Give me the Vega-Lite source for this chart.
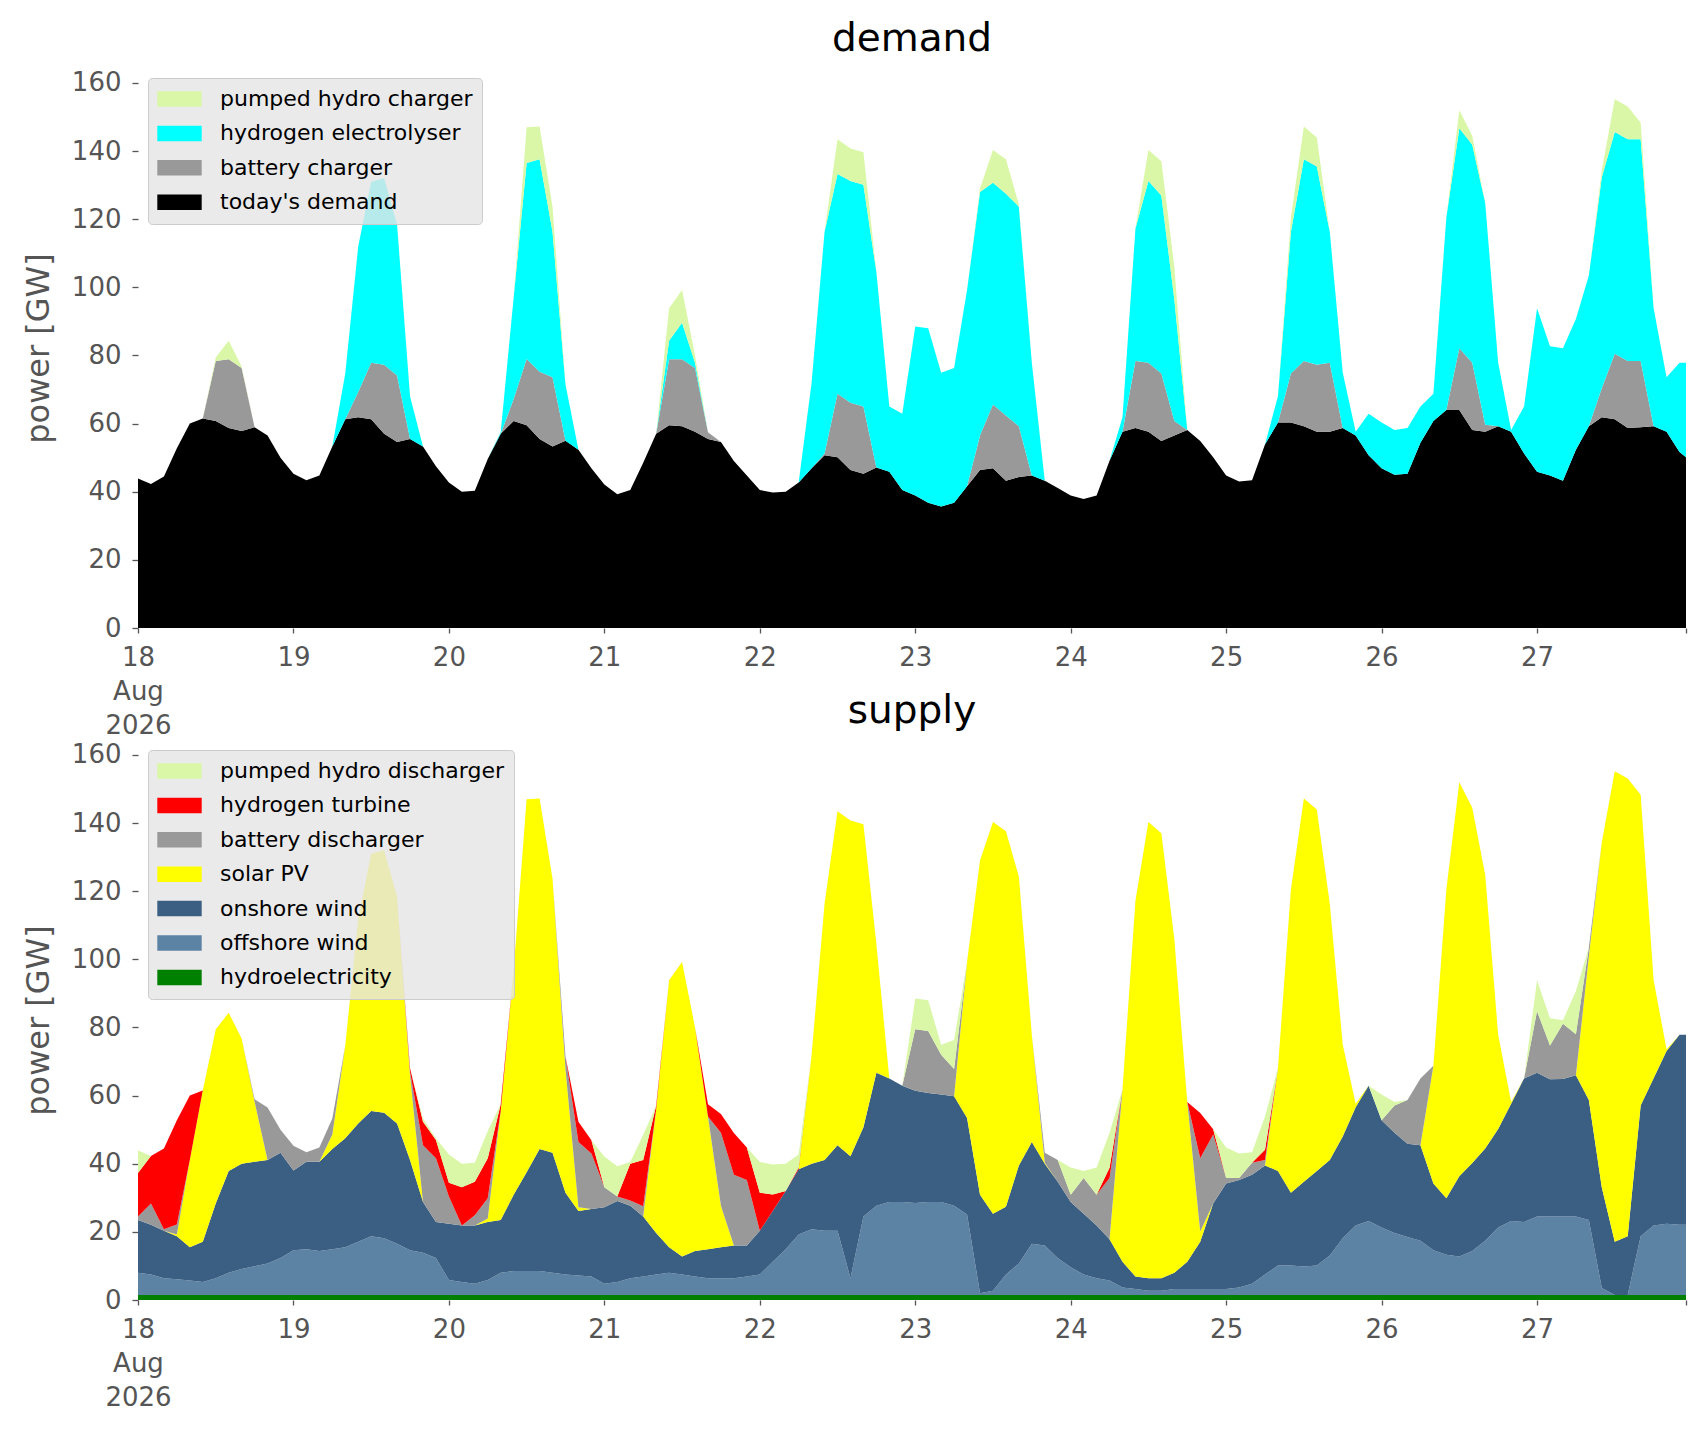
{
  "$schema": "https://vega.github.io/schema/vega-lite/v6.json",
  "background": "white",
  "padding": {"left": 22, "top": 19, "right": 5, "bottom": 5},
  "bounds": "flush",
  "spacing": 112,
  "resolve": {"scale": {"color": "independent"}, "legend": {"color": "independent"}},
  "config": {
    "font": "DejaVu Sans",
    "view": {"stroke": null},
    "axis": {
      "labelFont": "DejaVu Sans", "labelFontSize": 26, "labelColor": "#555555",
      "tickColor": "#555555", "tickWidth": 1.3, "domain": false, "grid": false,
      "titleFont": "DejaVu Sans", "titleFontSize": 32, "titleColor": "#555555", "titleFontWeight": "normal"
    },
    "legend": {
      "orient": "top-left", "offset": 10, "padding": 9,
      "fillColor": "rgba(229,229,229,0.8)", "strokeColor": "#cccccc", "strokeWidth": 1, "cornerRadius": 4,
      "labelFont": "DejaVu Sans", "labelFontSize": 22, "labelColor": "black", "labelLimit": 500,
      "symbolType": "M-1,-0.35L1,-0.35L1,0.35L-1,0.35Z", "symbolSize": 1971,
      "symbolStrokeWidth": 0, "symbolOpacity": 1, "clipHeight": 24, "rowPadding": 10.4, "labelOffset": 18
    },
    "title": {"font": "DejaVu Sans", "fontSize": 39, "fontWeight": "normal", "color": "black", "anchor": "middle", "offset": 9.5, "baseline": "alphabetic"}
  },
  "data": {"values": [
    {"t":"2026-08-18T00:00","d1":43.9,"d2":0,"d3":0,"d4":0,"s1":1.5,"s2":6.5,"s3":15.5,"s4":0,"s5":1,"s6":12.8,"s7":6.6},
    {"t":"2026-08-18T02:00","d1":42.3,"d2":0,"d3":0,"d4":0,"s1":1.5,"s2":6,"s3":14.6,"s4":0,"s5":6.2,"s6":14,"s7":0},
    {"t":"2026-08-18T04:00","d1":44.5,"d2":0,"d3":0,"d4":0,"s1":1.5,"s2":4.9,"s3":13.9,"s4":0,"s5":0.5,"s6":23.7,"s7":0},
    {"t":"2026-08-18T06:00","d1":52.8,"d2":0,"d3":0,"d4":0,"s1":1.5,"s2":4.6,"s3":12.6,"s4":0.5,"s5":3,"s6":30.6,"s7":0},
    {"t":"2026-08-18T08:00","d1":60,"d2":0,"d3":0,"d4":0,"s1":1.5,"s2":4.2,"s3":9.8,"s4":25.6,"s5":0,"s6":18.9,"s7":0},
    {"t":"2026-08-18T10:00","d1":61.5,"d2":0,"d3":0,"d4":0,"s1":1.5,"s2":3.8,"s3":11.8,"s4":44.4,"s5":0,"s6":0,"s7":0},
    {"t":"2026-08-18T12:00","d1":60.8,"d2":17.6,"d3":0,"d4":1,"s1":1.5,"s2":4.9,"s3":21.9,"s4":51.1,"s5":0,"s6":0,"s7":0},
    {"t":"2026-08-18T14:00","d1":58.7,"d2":20.2,"d3":0,"d4":5.4,"s1":1.5,"s2":6.5,"s3":29.9,"s4":46.4,"s5":0,"s6":0,"s7":0},
    {"t":"2026-08-18T16:00","d1":57.8,"d2":18.5,"d3":0,"d4":0.5,"s1":1.5,"s2":7.6,"s3":30.9,"s4":36.8,"s5":0,"s6":0,"s7":0},
    {"t":"2026-08-18T18:00","d1":58.9,"d2":0,"d3":0,"d4":0,"s1":1.5,"s2":8.4,"s3":30.7,"s4":17.6,"s5":0.7,"s6":0,"s7":0},
    {"t":"2026-08-18T20:00","d1":56.5,"d2":0,"d3":0,"d4":0,"s1":1.5,"s2":9.2,"s3":30.4,"s4":0,"s5":15.4,"s6":0,"s7":0},
    {"t":"2026-08-18T22:00","d1":50,"d2":0,"d3":0,"d4":0,"s1":1.5,"s2":10.8,"s3":30.9,"s4":0,"s5":6.8,"s6":0,"s7":0},
    {"t":"2026-08-19T00:00","d1":45.3,"d2":0,"d3":0,"d4":0,"s1":1.5,"s2":13.1,"s3":23.4,"s4":0,"s5":7.3,"s6":0,"s7":0},
    {"t":"2026-08-19T02:00","d1":43.4,"d2":0,"d3":0,"d4":0,"s1":1.5,"s2":13.4,"s3":25.7,"s4":0,"s5":2.8,"s6":0,"s7":0},
    {"t":"2026-08-19T04:00","d1":44.8,"d2":0,"d3":0,"d4":0,"s1":1.5,"s2":12.9,"s3":26.2,"s4":0,"s5":4.2,"s6":0,"s7":0},
    {"t":"2026-08-19T06:00","d1":53.3,"d2":0,"d3":0,"d4":0,"s1":1.5,"s2":13.4,"s3":29.4,"s4":4.3,"s5":4.7,"s6":0,"s7":0},
    {"t":"2026-08-19T08:00","d1":61.3,"d2":0,"d3":13.4,"d4":0,"s1":1.5,"s2":14,"s3":32,"s4":27.2,"s5":0,"s6":0,"s7":0},
    {"t":"2026-08-19T10:00","d1":61.9,"d2":7.4,"d3":42.7,"d4":0,"s1":1.5,"s2":15.6,"s3":34.7,"s4":60.2,"s5":0,"s6":0,"s7":0},
    {"t":"2026-08-19T12:00","d1":61.3,"d2":16.6,"d3":53.1,"d4":0,"s1":1.5,"s2":17.2,"s3":36.8,"s4":75.5,"s5":0,"s6":0,"s7":0},
    {"t":"2026-08-19T14:00","d1":57,"d2":20.3,"d3":54.7,"d4":0,"s1":1.5,"s2":16.6,"s3":36.9,"s4":77,"s5":0,"s6":0,"s7":0},
    {"t":"2026-08-19T16:00","d1":54.6,"d2":19.5,"d3":44.3,"d4":0,"s1":1.5,"s2":15,"s3":35.3,"s4":66.6,"s5":0,"s6":0,"s7":0},
    {"t":"2026-08-19T18:00","d1":55.5,"d2":0,"d3":12.5,"d4":0,"s1":1.5,"s2":13.1,"s3":26.5,"s4":24.9,"s5":1,"s6":1,"s7":0},
    {"t":"2026-08-19T20:00","d1":53.3,"d2":0,"d3":0,"d4":0,"s1":1.5,"s2":12.4,"s3":14.9,"s4":0,"s5":16.6,"s6":6.9,"s7":1},
    {"t":"2026-08-19T22:00","d1":47.5,"d2":0,"d3":0,"d4":0,"s1":1.5,"s2":10.8,"s3":10.6,"s4":0,"s5":18.7,"s6":5.4,"s7":0.5},
    {"t":"2026-08-20T00:00","d1":42.7,"d2":0,"d3":0,"d4":0,"s1":1.5,"s2":4.4,"s3":16.5,"s4":0,"s5":8,"s6":4,"s7":8.3},
    {"t":"2026-08-20T02:00","d1":40,"d2":0,"d3":0,"d4":0,"s1":1.5,"s2":3.8,"s3":16.6,"s4":0,"s5":0,"s6":11.2,"s7":6.9},
    {"t":"2026-08-20T04:00","d1":40.3,"d2":0,"d3":0,"d4":0,"s1":1.5,"s2":3.3,"s3":17.1,"s4":0,"s5":3,"s6":9.8,"s7":5.6},
    {"t":"2026-08-20T06:00","d1":49.6,"d2":0,"d3":0,"d4":0,"s1":1.5,"s2":4.4,"s3":17,"s4":1,"s5":6,"s6":11.7,"s7":8},
    {"t":"2026-08-20T08:00","d1":57,"d2":0,"d3":0.5,"d4":0,"s1":1.5,"s2":6.5,"s3":15.5,"s4":32,"s5":0,"s6":2,"s7":0},
    {"t":"2026-08-20T10:00","d1":60.8,"d2":6.4,"d3":29.8,"d4":0,"s1":1.5,"s2":7,"s3":22.4,"s4":66.1,"s5":0,"s6":0,"s7":0},
    {"t":"2026-08-20T12:00","d1":59.5,"d2":19.5,"d3":57.5,"d4":10.5,"s1":1.5,"s2":7,"s3":29,"s4":109.5,"s5":0,"s6":0,"s7":0},
    {"t":"2026-08-20T14:00","d1":55.5,"d2":19.7,"d3":62.4,"d4":9.6,"s1":1.5,"s2":7,"s3":35.8,"s4":102.9,"s5":0,"s6":0,"s7":0},
    {"t":"2026-08-20T16:00","d1":53.3,"d2":20.3,"d3":42.7,"d4":7.4,"s1":1.5,"s2":6.5,"s3":35.2,"s4":80.5,"s5":0,"s6":0,"s7":0},
    {"t":"2026-08-20T18:00","d1":55,"d2":0,"d3":16.5,"d4":0,"s1":1.5,"s2":6,"s3":24,"s4":36.3,"s5":3.7,"s6":0,"s7":0},
    {"t":"2026-08-20T20:00","d1":52.3,"d2":0,"d3":0,"d4":0,"s1":1.5,"s2":5.7,"s3":18.9,"s4":1.1,"s5":19.2,"s6":5.9,"s7":0},
    {"t":"2026-08-20T22:00","d1":46.9,"d2":0,"d3":0,"d4":0,"s1":1.5,"s2":5.4,"s3":19.8,"s4":0,"s5":16.3,"s6":3.9,"s7":0},
    {"t":"2026-08-21T00:00","d1":42.1,"d2":0,"d3":0,"d4":0,"s1":1.5,"s2":3.3,"s3":22.4,"s4":0,"s5":5.9,"s6":0,"s7":9},
    {"t":"2026-08-21T02:00","d1":39.3,"d2":0,"d3":0,"d4":0,"s1":1.5,"s2":3.8,"s3":23.8,"s4":0,"s5":1.3,"s6":0,"s7":8.9},
    {"t":"2026-08-21T04:00","d1":40.5,"d2":0,"d3":0,"d4":0,"s1":1.5,"s2":4.9,"s3":21.3,"s4":0,"s5":1.5,"s6":10.8,"s7":0.5},
    {"t":"2026-08-21T06:00","d1":48.5,"d2":0,"d3":0,"d4":0,"s1":1.5,"s2":5.4,"s3":17.6,"s4":0,"s5":3,"s6":13.6,"s7":7.4},
    {"t":"2026-08-21T08:00","d1":57,"d2":0,"d3":0,"d4":0,"s1":1.5,"s2":6,"s3":12.2,"s4":36.3,"s5":0,"s6":1,"s7":0},
    {"t":"2026-08-21T10:00","d1":59.5,"d2":19.4,"d3":5.4,"d4":9.6,"s1":1.5,"s2":6.5,"s3":7.5,"s4":78.4,"s5":0,"s6":0,"s7":0},
    {"t":"2026-08-21T12:00","d1":59.2,"d2":19.7,"d3":10.7,"d4":9.6,"s1":1.5,"s2":6,"s3":5.3,"s4":86.4,"s5":0,"s6":0,"s7":0},
    {"t":"2026-08-21T14:00","d1":57.6,"d2":18.7,"d3":1.6,"d4":2.1,"s1":1.5,"s2":5.4,"s3":7.5,"s4":65.6,"s5":0,"s6":0,"s7":0},
    {"t":"2026-08-21T16:00","d1":55.5,"d2":2,"d3":0,"d4":0,"s1":1.5,"s2":4.9,"s3":8.5,"s4":39,"s5":0,"s6":3.6,"s7":0},
    {"t":"2026-08-21T18:00","d1":54.6,"d2":0,"d3":0,"d4":0,"s1":1.5,"s2":4.9,"s3":9.1,"s4":12.2,"s5":21.4,"s6":5.5,"s7":0},
    {"t":"2026-08-21T20:00","d1":49,"d2":0,"d3":0,"d4":0,"s1":1.5,"s2":4.9,"s3":9.6,"s4":0,"s5":20.8,"s6":12.2,"s7":0},
    {"t":"2026-08-21T22:00","d1":44.8,"d2":0,"d3":0,"d4":0,"s1":1.5,"s2":5.4,"s3":9.1,"s4":0,"s5":19.2,"s6":9.6,"s7":0},
    {"t":"2026-08-22T00:00","d1":40.5,"d2":0,"d3":0,"d4":0,"s1":1.5,"s2":6,"s3":12.8,"s4":0,"s5":0,"s6":11.2,"s7":9},
    {"t":"2026-08-22T02:00","d1":39.8,"d2":0,"d3":0,"d4":0,"s1":1.5,"s2":9.7,"s3":14.9,"s4":0,"s5":0,"s6":4.9,"s7":8.8},
    {"t":"2026-08-22T04:00","d1":40,"d2":0,"d3":0,"d4":0,"s1":1.5,"s2":13.4,"s3":17.1,"s4":0,"s5":0,"s6":0,"s7":8},
    {"t":"2026-08-22T06:00","d1":42.7,"d2":0,"d3":0,"d4":0,"s1":1.5,"s2":17.7,"s3":19.2,"s4":0,"s5":0,"s6":0.5,"s7":3.8},
    {"t":"2026-08-22T08:00","d1":46.9,"d2":0,"d3":25.1,"d4":0,"s1":1.5,"s2":19.3,"s3":19.2,"s4":32,"s5":0,"s6":0,"s7":0},
    {"t":"2026-08-22T10:00","d1":50.7,"d2":0.5,"d3":65.1,"d4":0,"s1":1.5,"s2":18.8,"s3":20.8,"s4":75.2,"s5":0,"s6":0,"s7":0},
    {"t":"2026-08-22T12:00","d1":50.1,"d2":18.7,"d3":64.5,"d4":10.2,"s1":1.5,"s2":18.8,"s3":25.1,"s4":98.1,"s5":0,"s6":0,"s7":0},
    {"t":"2026-08-22T14:00","d1":46.4,"d2":19.7,"d3":65.1,"d4":9.6,"s1":1.5,"s2":4.9,"s3":35.8,"s4":98.6,"s5":0,"s6":0,"s7":0},
    {"t":"2026-08-22T16:00","d1":45.3,"d2":19.7,"d3":65.1,"d4":9.6,"s1":1.5,"s2":23,"s3":26.2,"s4":89,"s5":0,"s6":0,"s7":0},
    {"t":"2026-08-22T18:00","d1":47.1,"d2":0,"d3":57.4,"d4":0,"s1":1.5,"s2":26.2,"s3":39,"s4":37.8,"s5":0,"s6":0,"s7":0},
    {"t":"2026-08-22T20:00","d1":45.9,"d2":0,"d3":19.1,"d4":0,"s1":1.5,"s2":27.3,"s3":36.2,"s4":0,"s5":0,"s6":0,"s7":0},
    {"t":"2026-08-22T22:00","d1":40.5,"d2":0,"d3":22.4,"d4":0,"s1":1.5,"s2":27.3,"s3":34.1,"s4":0,"s5":0,"s6":0,"s7":0},
    {"t":"2026-08-23T00:00","d1":38.9,"d2":0,"d3":49.6,"d4":0,"s1":1.5,"s2":27,"s3":32.9,"s4":0,"s5":18.1,"s6":0,"s7":9},
    {"t":"2026-08-23T02:00","d1":36.8,"d2":0,"d3":51.2,"d4":0,"s1":1.5,"s2":27.3,"s3":32,"s4":0,"s5":18.2,"s6":0,"s7":9},
    {"t":"2026-08-23T04:00","d1":35.7,"d2":0,"d3":39.2,"d4":0,"s1":1.5,"s2":27.3,"s3":31.5,"s4":0,"s5":11.7,"s6":0,"s7":2.9},
    {"t":"2026-08-23T06:00","d1":36.8,"d2":0,"d3":39.5,"d4":0,"s1":1.5,"s2":26.2,"s3":32.1,"s4":0,"s5":8,"s6":0,"s7":8.5},
    {"t":"2026-08-23T08:00","d1":41.6,"d2":0,"d3":57.6,"d4":0,"s1":1.5,"s2":23.6,"s3":28.3,"s4":45.8,"s5":0,"s6":0,"s7":0},
    {"t":"2026-08-23T10:00","d1":46.4,"d2":10.1,"d3":71.5,"d4":1,"s1":1.5,"s2":0.5,"s3":28.9,"s4":98.1,"s5":0,"s6":0,"s7":0},
    {"t":"2026-08-23T12:00","d1":46.9,"d2":18.7,"d3":65.1,"d4":9.6,"s1":1.5,"s2":1.2,"s3":22.6,"s4":115,"s5":0,"s6":0,"s7":0},
    {"t":"2026-08-23T14:00","d1":43.2,"d2":19.2,"d3":65.1,"d4":10.1,"s1":1.5,"s2":6,"s3":19.9,"s4":110.2,"s5":0,"s6":0,"s7":0},
    {"t":"2026-08-23T16:00","d1":44.3,"d2":14.9,"d3":64.5,"d4":0.6,"s1":1.5,"s2":9.2,"s3":28.8,"s4":84.8,"s5":0,"s6":0,"s7":0},
    {"t":"2026-08-23T18:00","d1":44.8,"d2":0,"d3":33.1,"d4":0,"s1":1.5,"s2":15,"s3":29.9,"s4":31.5,"s5":0,"s6":0,"s7":0},
    {"t":"2026-08-23T20:00","d1":43.2,"d2":0,"d3":0,"d4":0,"s1":1.5,"s2":14.5,"s3":24,"s4":0.3,"s5":2.9,"s6":0,"s7":0},
    {"t":"2026-08-23T22:00","d1":41.1,"d2":0,"d3":0,"d4":0,"s1":1.5,"s2":10.8,"s3":22.4,"s4":0,"s5":6.4,"s6":0,"s7":0},
    {"t":"2026-08-24T00:00","d1":38.9,"d2":0,"d3":0,"d4":0,"s1":1.5,"s2":8.1,"s3":19.2,"s4":0,"s5":2.1,"s6":0,"s7":8},
    {"t":"2026-08-24T02:00","d1":37.9,"d2":0,"d3":0,"d4":0,"s1":1.5,"s2":6,"s3":17.8,"s4":0,"s5":10.5,"s6":0,"s7":2.1},
    {"t":"2026-08-24T04:00","d1":38.9,"d2":0,"d3":0,"d4":0,"s1":1.5,"s2":4.9,"s3":15.5,"s4":0,"s5":9,"s6":0,"s7":8},
    {"t":"2026-08-24T06:00","d1":49.1,"d2":0,"d3":0,"d4":0,"s1":1.5,"s2":4.2,"s3":12.1,"s4":0,"s5":18,"s6":3,"s7":10.3},
    {"t":"2026-08-24T08:00","d1":57.6,"d2":0,"d3":4.3,"d4":0,"s1":1.5,"s2":2.2,"s3":7.5,"s4":50.7,"s5":0,"s6":0,"s7":0},
    {"t":"2026-08-24T10:00","d1":58.7,"d2":19.7,"d3":38.9,"d4":0,"s1":1.5,"s2":1.7,"s3":3.7,"s4":110.4,"s5":0,"s6":0,"s7":0},
    {"t":"2026-08-24T12:00","d1":57.6,"d2":20.3,"d3":53.3,"d4":9.1,"s1":1.5,"s2":1.2,"s3":3.7,"s4":133.9,"s5":0,"s6":0,"s7":0},
    {"t":"2026-08-24T14:00","d1":54.9,"d2":19.8,"d3":52.3,"d4":10,"s1":1.5,"s2":1.2,"s3":3.7,"s4":130.6,"s5":0,"s6":0,"s7":0},
    {"t":"2026-08-24T16:00","d1":56.5,"d2":4.3,"d3":35.7,"d4":9.5,"s1":1.5,"s2":1.7,"s3":4.8,"s4":98,"s5":0,"s6":0,"s7":0},
    {"t":"2026-08-24T18:00","d1":58.1,"d2":0,"d3":0,"d4":0,"s1":1.5,"s2":1.7,"s3":8,"s4":46.9,"s5":0,"s6":0,"s7":0},
    {"t":"2026-08-24T20:00","d1":54.9,"d2":0,"d3":0,"d4":0,"s1":1.5,"s2":1.7,"s3":13.9,"s4":3,"s5":21.5,"s6":13.3,"s7":0},
    {"t":"2026-08-24T22:00","d1":50.1,"d2":0,"d3":0,"d4":0,"s1":1.5,"s2":1.7,"s3":25.1,"s4":0,"s5":20.3,"s6":1.5,"s7":0},
    {"t":"2026-08-25T00:00","d1":44.8,"d2":0,"d3":0,"d4":0,"s1":1.5,"s2":1.7,"s3":31,"s4":0,"s5":1.6,"s6":0,"s7":9},
    {"t":"2026-08-25T02:00","d1":43,"d2":0,"d3":0,"d4":0,"s1":1.5,"s2":2.2,"s3":31.5,"s4":0,"s5":0.6,"s6":0,"s7":7.2},
    {"t":"2026-08-25T04:00","d1":43.4,"d2":0,"d3":0,"d4":0,"s1":1.5,"s2":3.3,"s3":32,"s4":0,"s5":3.5,"s6":0,"s7":3.1},
    {"t":"2026-08-25T06:00","d1":53.9,"d2":0,"d3":0,"d4":0,"s1":1.5,"s2":6,"s3":32,"s4":0,"s5":1.6,"s6":3,"s7":9.8},
    {"t":"2026-08-25T08:00","d1":60.3,"d2":0,"d3":7.7,"d4":0,"s1":1.5,"s2":8.6,"s3":27.8,"s4":30.1,"s5":0,"s6":0,"s7":0},
    {"t":"2026-08-25T10:00","d1":60.3,"d2":14.4,"d3":41.6,"d4":4.2,"s1":1.5,"s2":8.6,"s3":21.4,"s4":89,"s5":0,"s6":0,"s7":0},
    {"t":"2026-08-25T12:00","d1":59.2,"d2":19.2,"d3":59.2,"d4":9.6,"s1":1.5,"s2":8.3,"s3":24.9,"s4":112.5,"s5":0,"s6":0,"s7":0},
    {"t":"2026-08-25T14:00","d1":57.6,"d2":19.7,"d3":58.2,"d4":8.5,"s1":1.5,"s2":8.6,"s3":27.8,"s4":106.1,"s5":0,"s6":0,"s7":0},
    {"t":"2026-08-25T16:00","d1":57.6,"d2":20.3,"d3":38.4,"d4":0,"s1":1.5,"s2":11.6,"s3":28,"s4":75.2,"s5":0,"s6":0,"s7":0},
    {"t":"2026-08-25T18:00","d1":58.7,"d2":0,"d3":16.3,"d4":0,"s1":1.5,"s2":16.6,"s3":29.9,"s4":27,"s5":0,"s6":0,"s7":0},
    {"t":"2026-08-25T20:00","d1":56.5,"d2":0,"d3":1.1,"d4":0,"s1":1.5,"s2":20.4,"s3":34.7,"s4":1,"s5":0,"s6":0,"s7":0},
    {"t":"2026-08-25T22:00","d1":50.7,"d2":0,"d3":12.2,"d4":0,"s1":1.5,"s2":21.7,"s3":39.7,"s4":0,"s5":0,"s6":0,"s7":0},
    {"t":"2026-08-26T00:00","d1":46.9,"d2":0,"d3":13.4,"d4":0,"s1":1.5,"s2":19.8,"s3":31.5,"s4":0,"s5":0,"s6":0,"s7":7.5},
    {"t":"2026-08-26T02:00","d1":45,"d2":0,"d3":13.1,"d4":0,"s1":1.5,"s2":18.2,"s3":29.4,"s4":0,"s5":8,"s6":0,"s7":1},
    {"t":"2026-08-26T04:00","d1":45.3,"d2":0,"d3":13.4,"d4":0,"s1":1.5,"s2":17,"s3":27.4,"s4":0,"s5":12.8,"s6":0,"s7":0},
    {"t":"2026-08-26T06:00","d1":54.4,"d2":0,"d3":10.6,"d4":0,"s1":1.5,"s2":15.9,"s3":28,"s4":0,"s5":19.6,"s6":0,"s7":0},
    {"t":"2026-08-26T08:00","d1":60.8,"d2":0,"d3":8,"d4":0,"s1":1.5,"s2":13.1,"s3":19.6,"s4":34.6,"s5":0,"s6":0,"s7":0},
    {"t":"2026-08-26T10:00","d1":64,"d2":0,"d3":56.5,"d4":0,"s1":1.5,"s2":11.8,"s3":16.6,"s4":90.6,"s5":0,"s6":0,"s7":0},
    {"t":"2026-08-26T12:00","d1":64,"d2":18.1,"d3":64.6,"d4":5.3,"s1":1.5,"s2":11.3,"s3":23.5,"s4":115.7,"s5":0,"s6":0,"s7":0},
    {"t":"2026-08-26T14:00","d1":58.1,"d2":19.8,"d3":64,"d4":2.6,"s1":1.5,"s2":12.9,"s3":25.8,"s4":104.3,"s5":0,"s6":0,"s7":0},
    {"t":"2026-08-26T16:00","d1":57.6,"d2":2.1,"d3":65.1,"d4":0,"s1":1.5,"s2":15.9,"s3":27.1,"s4":80.3,"s5":0,"s6":0,"s7":0},
    {"t":"2026-08-26T18:00","d1":59.2,"d2":0,"d3":18.7,"d4":0,"s1":1.5,"s2":19.8,"s3":28.9,"s4":27.7,"s5":0,"s6":0,"s7":0},
    {"t":"2026-08-26T20:00","d1":57.6,"d2":0,"d3":0.5,"d4":0,"s1":1.5,"s2":21.7,"s3":34.4,"s4":0.5,"s5":0,"s6":0,"s7":0},
    {"t":"2026-08-26T22:00","d1":51.2,"d2":0,"d3":13.8,"d4":0,"s1":1.5,"s2":21.4,"s3":42.1,"s4":0,"s5":0,"s6":0,"s7":0},
    {"t":"2026-08-27T00:00","d1":45.9,"d2":0,"d3":48,"d4":0,"s1":1.5,"s2":23,"s3":42.2,"s4":0,"s5":18.1,"s6":0,"s7":9.1},
    {"t":"2026-08-27T02:00","d1":44.8,"d2":0,"d3":37.9,"d4":0,"s1":1.5,"s2":23,"s3":40.3,"s4":0,"s5":9.9,"s6":0,"s7":8},
    {"t":"2026-08-27T04:00","d1":43.2,"d2":0,"d3":38.9,"d4":0,"s1":1.5,"s2":23,"s3":40.4,"s4":0,"s5":16.2,"s6":0,"s7":1},
    {"t":"2026-08-27T06:00","d1":52.3,"d2":0,"d3":38.4,"d4":0,"s1":1.5,"s2":23,"s3":41.5,"s4":0,"s5":12,"s6":0,"s7":12.7},
    {"t":"2026-08-27T08:00","d1":59.2,"d2":0,"d3":44.3,"d4":0,"s1":1.5,"s2":22,"s3":35.2,"s4":42.2,"s5":2.6,"s6":0,"s7":0},
    {"t":"2026-08-27T10:00","d1":61.9,"d2":8.5,"d3":61.9,"d4":2.1,"s1":1.5,"s2":2,"s3":29.5,"s4":101.4,"s5":0,"s6":0,"s7":0},
    {"t":"2026-08-27T12:00","d1":61.3,"d2":19.2,"d3":65.1,"d4":9.6,"s1":1.5,"s2":0,"s3":15.6,"s4":138.1,"s5":0,"s6":0,"s7":0},
    {"t":"2026-08-27T14:00","d1":58.7,"d2":19.7,"d3":65.1,"d4":9.6,"s1":1.5,"s2":0,"s3":17.2,"s4":134.4,"s5":0,"s6":0,"s7":0},
    {"t":"2026-08-27T16:00","d1":58.9,"d2":19.5,"d3":65.1,"d4":4.8,"s1":1.5,"s2":17.2,"s3":38.4,"s4":91.2,"s5":0,"s6":0,"s7":0},
    {"t":"2026-08-27T18:00","d1":59.2,"d2":0,"d3":34.7,"d4":0,"s1":1.5,"s2":20.4,"s3":43.2,"s4":28.8,"s5":0,"s6":0,"s7":0},
    {"t":"2026-08-27T20:00","d1":57.6,"d2":0,"d3":16,"d4":0,"s1":1.5,"s2":20.9,"s3":50.7,"s4":0.5,"s5":0,"s6":0,"s7":0},
    {"t":"2026-08-27T22:00","d1":51.7,"d2":0,"d3":26.2,"d4":0,"s1":1.5,"s2":20.6,"s3":55.8,"s4":0,"s5":0,"s6":0,"s7":0},
    {"t":"2026-08-27T23:00","d1":50.1,"d2":0,"d3":27.8,"d4":0,"s1":1.5,"s2":20.6,"s3":55.8,"s4":0,"s5":0,"s6":0,"s7":0}
  ]},
  "vconcat": [
    {
      "title": {"text": "demand"},
      "width": 1548,
      "height": 560,
      "transform": [{"fold": ["d1", "d2", "d3", "d4"], "as": ["k", "v"]}],
      "mark": {"type": "area", "interpolate": "linear"},
      "encoding": {
        "x": {
          "field": "t", "type": "temporal",
          "scale": {"domain": [{"year": 2026, "month": 8, "date": 18, "hours": 0}, {"year": 2026, "month": 8, "date": 27, "hours": 23}]},
          "axis": {
            "title": null, "tickSize": 5, "labelPadding": 11, "labelLineHeight": 34, "labelFlush": false, "labelOverlap": false,
            "values": [
              {"year": 2026, "month": 8, "date": 18}, {"year": 2026, "month": 8, "date": 19}, {"year": 2026, "month": 8, "date": 20},
              {"year": 2026, "month": 8, "date": 21}, {"year": 2026, "month": 8, "date": 22}, {"year": 2026, "month": 8, "date": 23},
              {"year": 2026, "month": 8, "date": 24}, {"year": 2026, "month": 8, "date": 25}, {"year": 2026, "month": 8, "date": 26},
              {"year": 2026, "month": 8, "date": 27}, {"year": 2026, "month": 8, "date": 27, "hours": 23}
            ],
            "labelExpr": "hours(datum.value) == 23 ? '' : (date(datum.value) == 18 ? ['18', 'Aug', '2026'] : '' + date(datum.value))"
          }
        },
        "y": {
          "field": "v", "type": "quantitative", "stack": "zero",
          "scale": {"domain": [0, 164.4], "nice": false},
          "axis": {"title": "power [GW]", "values": [0, 20, 40, 60, 80, 100, 120, 140, 160], "tickSize": 6, "labelPadding": 11, "titlePadding": 16}
        },
        "color": {
          "field": "k", "type": "nominal",
          "scale": {"domain": ["d4", "d3", "d2", "d1"], "range": ["#d9f7a6", "#00ffff", "#999999", "#000000"]},
          "legend": {
            "title": null,
            "labelExpr": "datum.label == 'd1' ? \"today's demand\" : datum.label == 'd2' ? 'battery charger' : datum.label == 'd3' ? 'hydrogen electrolyser' : 'pumped hydro charger'"
          }
        },
        "order": {"field": "k", "sort": "ascending"}
      }
    },
    {
      "title": {"text": "supply"},
      "width": 1548,
      "height": 560,
      "transform": [{"fold": ["s1", "s2", "s3", "s4", "s5", "s6", "s7"], "as": ["k", "v"]}],
      "mark": {"type": "area", "interpolate": "linear"},
      "encoding": {
        "x": {
          "field": "t", "type": "temporal",
          "scale": {"domain": [{"year": 2026, "month": 8, "date": 18, "hours": 0}, {"year": 2026, "month": 8, "date": 27, "hours": 23}]},
          "axis": {
            "title": null, "tickSize": 5, "labelPadding": 11, "labelLineHeight": 34, "labelFlush": false, "labelOverlap": false,
            "values": [
              {"year": 2026, "month": 8, "date": 18}, {"year": 2026, "month": 8, "date": 19}, {"year": 2026, "month": 8, "date": 20},
              {"year": 2026, "month": 8, "date": 21}, {"year": 2026, "month": 8, "date": 22}, {"year": 2026, "month": 8, "date": 23},
              {"year": 2026, "month": 8, "date": 24}, {"year": 2026, "month": 8, "date": 25}, {"year": 2026, "month": 8, "date": 26},
              {"year": 2026, "month": 8, "date": 27}, {"year": 2026, "month": 8, "date": 27, "hours": 23}
            ],
            "labelExpr": "hours(datum.value) == 23 ? '' : (date(datum.value) == 18 ? ['18', 'Aug', '2026'] : '' + date(datum.value))"
          }
        },
        "y": {
          "field": "v", "type": "quantitative", "stack": "zero",
          "scale": {"domain": [0, 164.4], "nice": false},
          "axis": {"title": "power [GW]", "values": [0, 20, 40, 60, 80, 100, 120, 140, 160], "tickSize": 6, "labelPadding": 11, "titlePadding": 16}
        },
        "color": {
          "field": "k", "type": "nominal",
          "scale": {"domain": ["s7", "s6", "s5", "s4", "s3", "s2", "s1"], "range": ["#d9f7a6", "#ff0000", "#999999", "#ffff00", "#3a5f82", "#5c82a4", "#008000"]},
          "legend": {
            "title": null,
            "labelExpr": "datum.label == 's1' ? 'hydroelectricity' : datum.label == 's2' ? 'offshore wind' : datum.label == 's3' ? 'onshore wind' : datum.label == 's4' ? 'solar PV' : datum.label == 's5' ? 'battery discharger' : datum.label == 's6' ? 'hydrogen turbine' : 'pumped hydro discharger'"
          }
        },
        "order": {"field": "k", "sort": "ascending"}
      }
    }
  ]
}
